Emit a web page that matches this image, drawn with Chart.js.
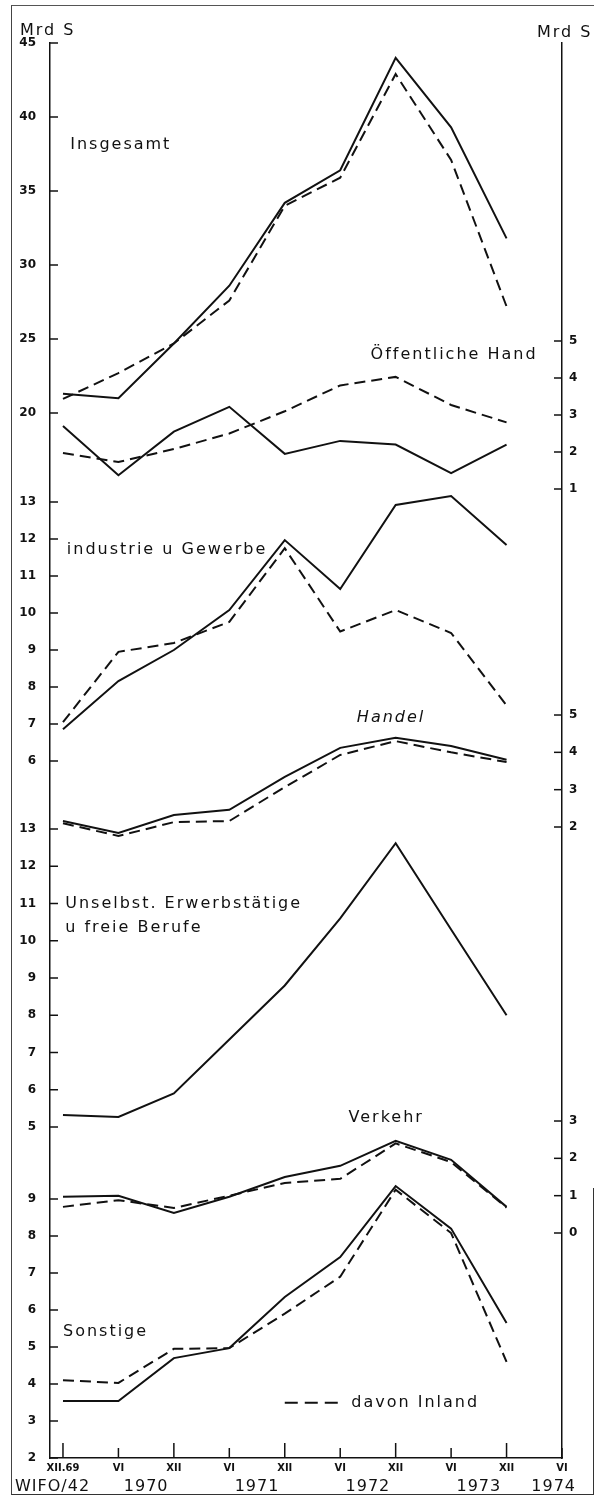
<!DOCTYPE html>
<html lang="de">
<head>
<meta charset="UTF-8">
<title>Kredite nach Wirtschaftsbereichen</title>
<script src="https://cdn.jsdelivr.net/npm/chart.js"></script>
<style>
  html, body { margin: 0; padding: 0; background: #fff; }
  #wrap { position: relative; width: 597px; height: 1496px; overflow: hidden; }
  #frame { position: absolute; left: 11px; top: 5px; width: 582px; height: 1488px;
           border-left: 1px solid #444; border-top: 1px solid #555; border-bottom: 1px solid #333; }
  #rightEdge { position: absolute; left: 593px; top: 1188px; width: 1px; height: 306px; background: #333; }
  canvas { position: absolute; left: 0; top: 0; }
</style>
</head>
<body>
<div id="wrap">
  <div id="frame"></div>
  <div id="rightEdge"></div>
  <canvas id="chart" width="597" height="1496"></canvas>
</div>

<script>
    // Stichtage XII.69 ... VI.74
    const periods = ['XII.69', 'VI', 'XII', 'VI', 'XII', 'VI', 'XII', 'VI', 'XII', 'VI'];
    const years = ['1970', '1971', '1972', '1973', '1974'];
    const yearAt = [1.5, 3.5, 5.5, 7.5, 8.85];

    // Mrd S, gesamt und davon Inland
    const insgesamt       = [21.3, 21.0, 24.7, 28.6, 34.2, 36.4, 44.0, 39.3, 31.8];
    const insgesamtInland = [20.95, 22.7, 24.7, 27.6, 34.0, 35.9, 42.9, 37.1, 27.2];
    const oeffentlich       = [2.7, 1.37, 2.55, 3.22, 1.95, 2.3, 2.2, 1.43, 2.2];
    const oeffentlichInland = [1.97, 1.73, 2.08, 2.5, 3.1, 3.8, 4.03, 3.27, 2.8];
    const industrie       = [6.86, 8.16, 9.0, 10.08, 11.97, 10.65, 12.92, 13.16, 11.84];
    const industrieInland = [7.05, 8.95, 9.19, 9.76, 11.75, 9.5, 10.08, 9.46, 7.5];
    const handel       = [2.16, 1.84, 2.32, 2.46, 3.34, 4.12, 4.39, 4.17, 3.8];
    const handelInland = [2.1, 1.76, 2.13, 2.16, 3.07, 3.93, 4.3, 4.0, 3.74];
    const unselbst = [5.32, 5.27, 5.9, 7.35, 8.8, 10.6, 12.62, 10.3, 8.0];
    const verkehr       = [0.97, 1.0, 0.54, 0.97, 1.5, 1.8, 2.47, 1.96, 0.7];
    const verkehrInland = [0.7, 0.88, 0.67, 1.0, 1.34, 1.45, 2.4, 1.9, 0.68];
    const sonstige       = [3.54, 3.54, 4.7, 4.97, 6.35, 7.43, 9.35, 8.2, 5.65];
    const sonstigeInland = [4.1, 4.03, 4.95, 4.97, 5.9, 6.9, 9.25, 8.08, 4.6];

    // tick labels of the partial axes
    const ticksInsgesamt = [20, 25, 30, 35, 40, 45];
    const ticksOeffentlich = [1, 2, 3, 4, 5];
    const ticksIndustrie = [6, 7, 8, 9, 10, 11, 12, 13];
    const ticksHandel = [2, 3, 4, 5];
    const ticksUnselbst = [5, 6, 7, 8, 9, 10, 11, 12, 13];
    const ticksVerkehr = [0, 1, 2, 3];
    const ticksSonstige = [2, 3, 4, 5, 6, 7, 8, 9];

    // page layout (pixels)
    const PLOT_TOP = 43, PLOT_BOTTOM = 1458, LEFT_W = 50, RIGHT_W = 35, X_H = 38;

    // each panel: where one of its values sits on the page and how many px per Mrd S
    const panels = [
        { id: 'yIns', side: 'left',  main: true,  ticks: ticksInsgesamt,   total: insgesamt,   inland: insgesamtInland,   anchor: 20, anchorPx: 413,  pxPerUnit: 14.8 },
        { id: 'yOef', side: 'right', main: true,  ticks: ticksOeffentlich, total: oeffentlich, inland: oeffentlichInland, anchor: 1,  anchorPx: 489,  pxPerUnit: 37 },
        { id: 'yInd', side: 'left',  main: false, ticks: ticksIndustrie,   total: industrie,   inland: industrieInland,   anchor: 13, anchorPx: 502,  pxPerUnit: 37 },
        { id: 'yHan', side: 'right', main: false, ticks: ticksHandel,      total: handel,      inland: handelInland,      anchor: 2,  anchorPx: 827,  pxPerUnit: 37.33 },
        { id: 'yUns', side: 'left',  main: false, ticks: ticksUnselbst,    total: unselbst,    inland: null,              anchor: 13, anchorPx: 829,  pxPerUnit: 37.25 },
        { id: 'yVer', side: 'right', main: false, ticks: ticksVerkehr,     total: verkehr,     inland: verkehrInland,     anchor: 0,  anchorPx: 1233, pxPerUnit: 37.33 },
        { id: 'ySon', side: 'left',  main: false, ticks: ticksSonstige,    total: sonstige,    inland: sonstigeInland,    anchor: 2,  anchorPx: 1458, pxPerUnit: 37 }
    ];

    const labels = [
        { text: 'Insgesamt', axis: 'yIns', x: 0.13, y: 38.1 },
        { text: 'Öffentliche Hand', axis: 'yOef', x: 8.56, y: 4.62, align: 'right' },
        { text: 'industrie u Gewerbe', axis: 'yInd', x: 0.07, y: 11.7 },
        { text: 'Handel', axis: 'yHan', x: 5.3, y: 4.92, italic: true },
        { text: 'Unselbst. Erwerbstätige', axis: 'yUns', x: 0.04, y: 10.99 },
        { text: 'u freie Berufe', axis: 'yUns', x: 0.04, y: 10.34 },
        { text: 'Verkehr', axis: 'yVer', x: 5.15, y: 3.08 },
        { text: 'Sonstige', axis: 'ySon', x: 0.0, y: 5.4 },
        { text: 'davon Inland', axis: 'ySon', x: 5.2, y: 3.49 }
    ];

    const INK = '#111';
    const FONT = "'DejaVu Sans', sans-serif";
    const DASH = [11, 6];

    function toXY(values) {
        return values.map((v, i) => ({ x: i, y: v }));
    }

    const datasets = [];
    panels.forEach(p => {
        datasets.push({ data: toXY(p.total), yAxisID: p.id, borderColor: INK, borderWidth: 2,
                        pointRadius: 0, tension: 0, fill: false });
        if (p.inland) {
            datasets.push({ data: toXY(p.inland), yAxisID: p.id, borderColor: INK, borderWidth: 2,
                            borderDash: DASH, pointRadius: 0, tension: 0, fill: false });
        }
    });

    const scales = {
        x: {
            type: 'linear', min: -0.234, max: 9,
            afterFit: s => { s.height = X_H; },
            afterBuildTicks: s => { s.ticks = periods.map((_, i) => ({ value: i })); },
            ticks: { autoSkip: false, maxRotation: 0, padding: 4, color: INK,
                     font: { family: FONT, size: 10, weight: 'bold' },
                     callback: v => periods[v] },
            grid: { display: false, drawTicks: false },
            border: { display: true, color: INK, width: 1.5 }
        }
    };
    panels.forEach(p => {
        const min = p.anchor - (PLOT_BOTTOM - p.anchorPx) / p.pxPerUnit;
        const max = p.anchor + (p.anchorPx - PLOT_TOP) / p.pxPerUnit;
        scales[p.id] = {
            type: 'linear', position: p.side, weight: p.main ? 1 : 0, min: min, max: max,
            afterFit: s => { s.width = p.main ? (p.side === 'left' ? LEFT_W : RIGHT_W) : 0; },
            afterBuildTicks: s => { s.ticks = p.ticks.map(v => ({ value: v })); },
            ticks: { autoSkip: false, padding: p.side === 'left' ? 14 : 7, color: INK,
                     font: { family: FONT, size: 12, weight: 'bold' },
                     callback: v => String(v) },
            grid: { display: false, drawTicks: false },
            border: { display: p.main, color: INK, width: 1.5 }
        };
    });

    function line(ctx, x1, y1, x2, y2) {
        ctx.beginPath();
        ctx.moveTo(x1, y1);
        ctx.lineTo(x2, y2);
        ctx.stroke();
    }

    // the extra panel axes get no width in the layout; give them the margin back so their labels show
    const sharedMargins = {
        id: 'sharedMargins',
        afterLayout(chart) {
            const area = chart.chartArea;
            panels.forEach(p => {
                const s = chart.scales[p.id];
                if (p.side === 'left') { s.left = 0; s.right = area.left; }
                else { s.left = area.right; s.right = chart.width; }
                s.width = s.right - s.left;
            });
        }
    };

    // inward tick marks, panel names, legend, years
    const decor = {
        id: 'decor',
        afterDraw(chart) {
            const ctx = chart.ctx, area = chart.chartArea, xs = chart.scales.x;
            ctx.save();
            ctx.strokeStyle = INK;
            ctx.fillStyle = INK;
            ctx.lineWidth = 1.5;
            panels.forEach(p => {
                const s = chart.scales[p.id];
                const x0 = p.side === 'left' ? area.left : area.right;
                const dir = p.side === 'left' ? 1 : -1;
                p.ticks.forEach(v => {
                    const y = s.getPixelForValue(v);
                    line(ctx, x0, y, x0 + dir * 8, y);
                });
            });
            periods.forEach((_, i) => {
                const px = xs.getPixelForValue(i);
                line(ctx, px, area.bottom, px, area.bottom - (i % 2 === 0 ? 15 : 10));
            });

            ctx.textBaseline = 'middle';
            ctx.letterSpacing = '2px';
            labels.forEach(l => {
                ctx.font = (l.italic ? 'italic ' : '') + '16px ' + FONT;
                ctx.textAlign = l.align || 'left';
                ctx.fillText(l.text, xs.getPixelForValue(l.x), chart.scales[l.axis].getPixelForValue(l.y));
            });

            // legend dash
            const ly = chart.scales.ySon.getPixelForValue(3.49);
            ctx.setLineDash([13, 7]);
            ctx.lineWidth = 2;
            line(ctx, xs.getPixelForValue(4.0), ly, xs.getPixelForValue(5.0), ly);
            ctx.setLineDash([]);

            // units
            ctx.font = '16px ' + FONT;
            ctx.textAlign = 'left';
            ctx.fillText('Mrd S', area.left - 30, area.top - 12);
            ctx.fillText('Mrd S', area.right - 25, area.top - 10);

            // years row
            ctx.letterSpacing = '1px';
            ctx.textAlign = 'center';
            years.forEach((y, i) => ctx.fillText(y, xs.getPixelForValue(yearAt[i]), area.bottom + 29));
            ctx.textAlign = 'left';
            ctx.fillText('WIFO/42', 15, area.bottom + 29);
            ctx.restore();
        }
    };

    new Chart(document.getElementById('chart').getContext('2d'), {
        type: 'line',
        data: { datasets: datasets },
        options: {
            responsive: false,
            animation: false,
            events: [],
            layout: { padding: { top: PLOT_TOP, left: 0, right: 0, bottom: 0 } },
            scales: scales,
            plugins: { legend: { display: false }, tooltip: { enabled: false } }
        },
        plugins: [sharedMargins, decor]
    });
</script>
</body>
</html>
